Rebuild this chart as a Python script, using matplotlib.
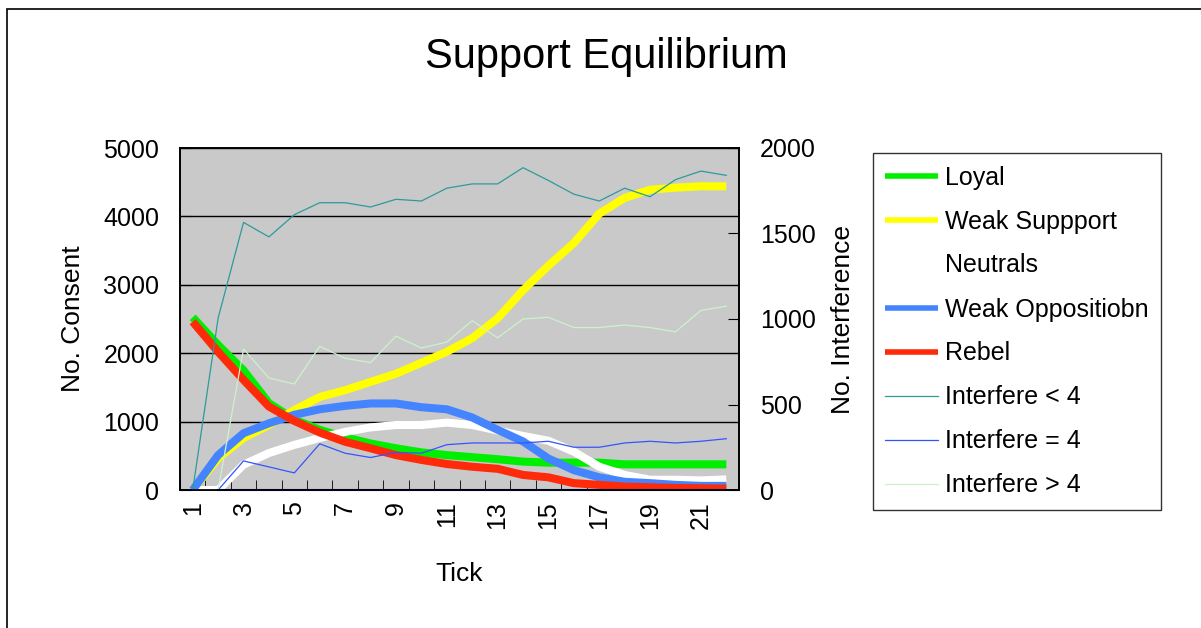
import numpy as np
import matplotlib
matplotlib.use("Agg")
import matplotlib.pyplot as plt
from matplotlib.patches import Rectangle

plt.rcParams['font.family'] = ['Liberation Sans', 'DejaVu Sans']

# Data
ticks = list(range(1, 23))
loyal = [2525, 2120, 1750, 1270, 1030, 880, 770, 680, 610, 550, 510, 480, 450, 415, 400, 400, 400, 375, 375, 375, 375, 375]
weak_support = [0, 460, 760, 950, 1170, 1360, 1460, 1580, 1700, 1860, 2020, 2220, 2510, 2920, 3280, 3610, 4040, 4270, 4390, 4420, 4440, 4440]
neutrals = [0, 0, 370, 540, 660, 760, 850, 915, 950, 950, 985, 950, 870, 790, 720, 560, 340, 220, 150, 150, 140, 155]
weak_opposition = [0, 510, 830, 975, 1100, 1180, 1230, 1265, 1265, 1210, 1180, 1060, 880, 710, 460, 290, 185, 120, 100, 75, 60, 60]
rebel = [2460, 2020, 1610, 1220, 1010, 840, 705, 610, 510, 440, 380, 340, 310, 220, 185, 100, 75, 50, 40, 30, 25, 20]

interfere_lt4 = [0, 1005, 1565, 1480, 1610, 1680, 1680, 1655, 1700, 1690, 1765, 1790, 1790, 1885, 1810, 1730, 1690, 1765, 1715, 1815, 1865, 1840]
interfere_eq4 = [0, 0, 170, 135, 100, 270, 215, 190, 220, 215, 265, 275, 275, 275, 285, 250, 250, 275, 285, 275, 285, 300]
interfere_gt4 = [0, 0, 825, 655, 620, 840, 770, 745, 900, 830, 865, 990, 890, 1000, 1010, 950, 950, 965, 950, 925, 1050, 1075]
interfere_other = [np.nan] + [0] * 21  # unlabeled series sitting on zero

W, H = 1201, 628
fig = plt.figure(figsize=(W / 100, H / 100), dpi=100)
fig.patch.set_facecolor('white')

# chart area border (top and left visible)
fig.add_artist(Rectangle((7 / W, -0.1), 1.2, 1 - 9 / H + 0.1, transform=fig.transFigure,
                         fill=False, edgecolor='black', lw=1.2))

ax = fig.add_axes([180 / W, 1 - 490 / H, (739 - 180) / W, (490 - 148) / H])
ax.set_facecolor('#C9C9C9')
ax2 = ax.twinx()

thick = 5.8
ax.plot(ticks, loyal, color='#00EE00', lw=thick, label='Loyal', solid_capstyle='butt')
ax.plot(ticks, weak_support, color='#FFFF00', lw=thick, label='Weak Suppport', solid_capstyle='butt')
ax.plot(ticks, neutrals, color='white', lw=thick, label='Neutrals', solid_capstyle='butt')
ax.plot(ticks, weak_opposition, color='#4584FF', lw=thick, label='Weak Oppositiobn', solid_capstyle='butt')
ax.plot(ticks, rebel, color='#FF2A0A', lw=thick, label='Rebel', solid_capstyle='butt')

ax2.plot(ticks, interfere_lt4, color='#2E9A9A', lw=0.9, label='Interfere < 4')
ax2.plot(ticks, interfere_eq4, color='#3355FF', lw=0.9, label='Interfere = 4')
ax2.plot(ticks, interfere_gt4, color='#CCF2CC', lw=0.9, label='Interfere > 4')
ax2.plot(ticks, interfere_other, color='#000080', lw=1.5, clip_on=False)

ax.set_xlim(0.5, 22.5)
ax.set_ylim(0, 5000)
ax2.set_ylim(0, 2000)
ax.set_yticks(range(0, 5001, 1000))
ax2.set_yticks(range(0, 2001, 500))
ax.yaxis.grid(True, color='black', lw=1)
ax.set_axisbelow(True)

ax.set_xticks(np.arange(0.5, 23, 1), minor=True)
ax.set_xticks(ticks[::2])
ax.tick_params(axis='x', which='major', length=0, labelsize=18, rotation=90, pad=8)
ax.tick_params(axis='x', which='minor', direction='in', length=7, color='black')
ax.tick_params(axis='y', direction='in', length=8, labelsize=18, pad=15)
ax2.tick_params(axis='y', direction='in', length=8, labelsize=18, pad=15)

for a in (ax, ax2):
    for s in a.spines.values():
        s.set_color('black')
        s.set_linewidth(1.2)

ax.set_xlabel('Tick', fontsize=19, labelpad=24)
ax.set_ylabel('No. Consent', fontsize=19, labelpad=13)
ax2.set_ylabel('No. Interference', fontsize=19, labelpad=11)

fig.text(606 / W, 1 - 57 / H, 'Support Equilibrium', fontsize=30, ha='center', va='center')

h1, l1 = ax.get_legend_handles_labels()
h2, l2 = ax2.get_legend_handles_labels()
leg = fig.legend(h1 + h2, l1 + l2, loc='upper left', bbox_to_anchor=(873 / W, 1 - 153 / H),
                 borderaxespad=0, fontsize=18, frameon=True, fancybox=False, edgecolor='black',
                 handlelength=2.1, handletextpad=0.28, labelspacing=0.8, borderpad=0.5)
leg.get_frame().set_linewidth(1.0)
for line in leg.get_lines():
    if line.get_linewidth() > 2:
        line.set_linewidth(4)

fig.savefig('out.png', dpi=100)
